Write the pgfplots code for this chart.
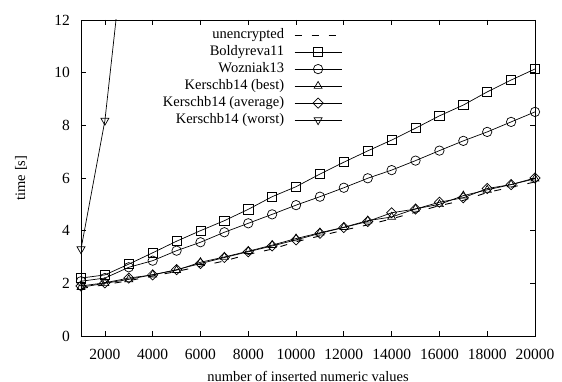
\documentclass[border=0pt]{standalone}
\usepackage{fontspec}
\setmainfont{Liberation Serif}
\usepackage{pgfplots}
\pgfplotsset{compat=1.18}
\begin{document}
\fontsize{14.5}{17}\selectfont
\begin{tikzpicture}
\begin{axis}[
  at={(0pt,0pt)}, anchor=south west,
  scale only axis, width=454pt, height=316pt,
  xmin=1000, xmax=20000, ymin=0, ymax=12,
  xtick={2000,4000,...,20000}, ytick={0,2,...,12},
  scaled x ticks=false,
  /pgf/number format/assume math mode=true,
  /pgf/number format/1000 sep={},
  tick align=inside, major tick length=5pt,
  tick style={line width=0.7pt, black},
  axis line style={line width=0.9pt},
  tick label style={font=\fontsize{15.5}{17}\selectfont},
  label style={font=\fontsize{14.5}{17}\selectfont},
  xticklabel style={yshift=-8pt},
  yticklabel style={xshift=-6pt},
  xlabel={number of inserted numeric values},
  ylabel={time [s]},
  xlabel style={at={(axis description cs:0.5,0)}, anchor=base, yshift=-45pt},
  ylabel style={at={(axis description cs:0,0.5)}, anchor=center, yshift=60pt},
  legend plot pos=right,
  legend cell align=right,
  legend style={draw=none, fill=none, inner sep=0pt, outer sep=0pt,
    font=\fontsize{14.5}{17}\selectfont,
    at={(axis description cs:0.575,0.976)}, anchor=north east,
    nodes={inner sep=0pt, text height=11pt, text depth=4pt},
    row sep=2pt, column sep=10pt},
  legend image code/.code={\draw[mark repeat=2,mark phase=2,#1] plot coordinates {(0pt,0pt)(23.5pt,0pt)(47pt,0pt)};},
  every axis plot/.append style={line width=0.7pt, black},
]
\addplot[dash pattern=on 7pt off 10pt, line width=0.9pt] coordinates {
(1000,1.8)(2000,1.95)(3000,2.1)(4000,2.28)(5000,2.45)(6000,2.65)(7000,2.85)(8000,3.1)(9000,3.3)(10000,3.58)
(11000,3.8)(12000,4.02)(13000,4.22)(14000,4.45)(15000,4.7)(16000,4.95)(17000,5.15)(18000,5.45)(19000,5.65)(20000,5.85)};
\addlegendentry{unencrypted}
\addplot[mark=square, mark size=4.6pt, mark options={solid}] coordinates {
(1000,2.2)(2000,2.32)(3000,2.73)(4000,3.16)(5000,3.6)(6000,4.0)(7000,4.38)(8000,4.81)(9000,5.29)(10000,5.67)
(11000,6.15)(12000,6.6)(13000,7.03)(14000,7.44)(15000,7.89)(16000,8.36)(17000,8.77)(18000,9.27)(19000,9.72)(20000,10.14)};
\addlegendentry{Boldyreva11}
\addplot[mark=o, mark size=4.7pt, mark options={solid}] coordinates {
(1000,2.08)(2000,2.2)(3000,2.61)(4000,2.86)(5000,3.24)(6000,3.56)(7000,3.94)(8000,4.28)(9000,4.62)(10000,4.97)
(11000,5.29)(12000,5.63)(13000,5.99)(14000,6.3)(15000,6.66)(16000,7.04)(17000,7.41)(18000,7.75)(19000,8.13)(20000,8.51)};
\addlegendentry{Wozniak13}
\addplot[mark=triangle, mark size=4.6pt, mark options={solid}] coordinates {
(1000,1.85)(2000,2.0)(3000,2.15)(4000,2.33)(5000,2.5)(6000,2.8)(7000,3.0)(8000,3.22)(9000,3.45)(10000,3.7)
(11000,3.92)(12000,4.13)(13000,4.38)(14000,4.52)(15000,4.83)(16000,5.0)(17000,5.33)(18000,5.55)(19000,5.75)(20000,5.97)};
\addlegendentry{Kerschb14 (best)}
\addplot[mark=square, mark size=3.6pt, mark options={solid, rotate=45}] coordinates {
(1000,1.9)(2000,2.02)(3000,2.2)(4000,2.32)(5000,2.52)(6000,2.75)(7000,2.98)(8000,3.2)(9000,3.42)(10000,3.65)
(11000,3.9)(12000,4.12)(13000,4.35)(14000,4.68)(15000,4.82)(16000,5.08)(17000,5.25)(18000,5.6)(19000,5.75)(20000,6.0)};
\addlegendentry{Kerschb14 (average)}
\addplot[mark=triangle, mark size=4.6pt, mark options={solid, rotate=180}] coordinates {
(1000,3.3)(2000,8.18)(3000,16.4)};
\addlegendentry{Kerschb14 (worst)}
\end{axis}
\pgfresetboundingbox
\path[use as bounding box] (-81pt,-45pt) rectangle (481pt,336pt);
\end{tikzpicture}
\end{document}
